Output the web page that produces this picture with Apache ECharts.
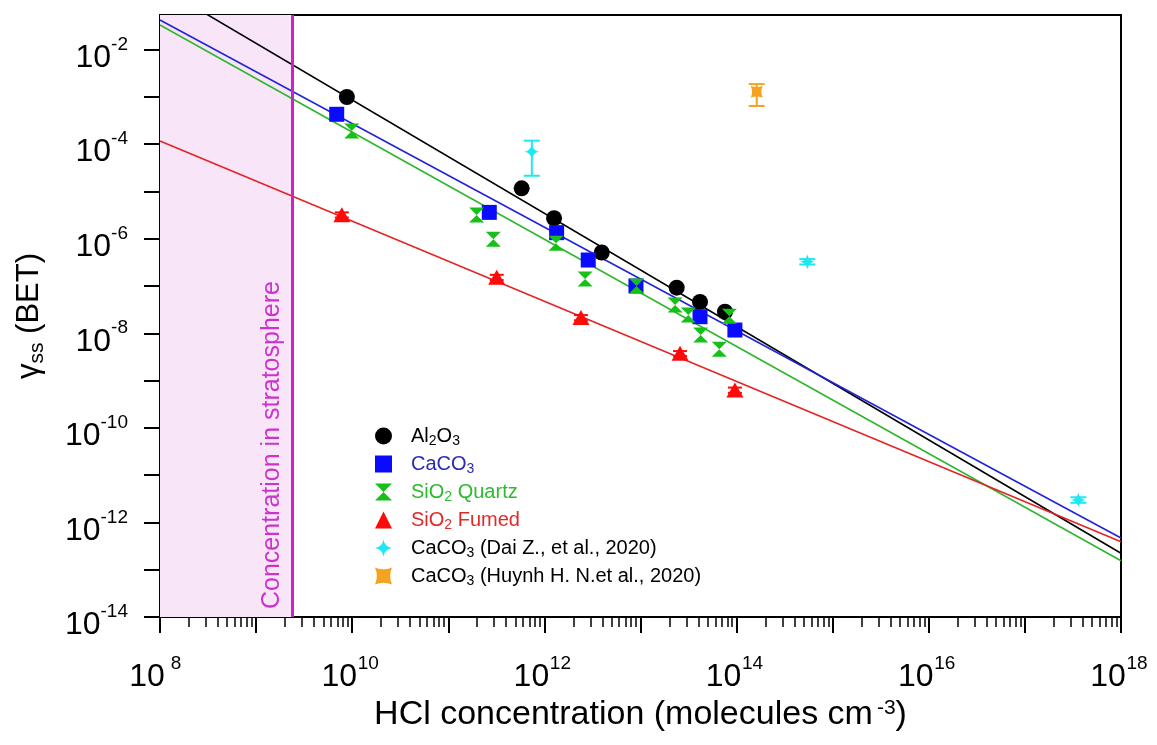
<!DOCTYPE html>
<html><head><meta charset="utf-8">
<script src="https://cdn.jsdelivr.net/npm/echarts@6/dist/echarts.min.js"></script>
<style>html,body{margin:0;padding:0;background:#fff}#c{width:1157px;height:745px}</style>
</head><body><div id="c"></div>
<script>
const FONT = '"Liberation Sans", Arial, Helvetica, sans-serif';

// ---- data (HCl concentration in molecules cm^-3, gamma_ss) ----
const al2o3X = [8.8e9, 5.8e11, 1.26e12, 3.95e12, 2.38e13, 4.16e13, 7.57e13];
const al2o3Y = [9.9e-4, 1.16e-5, 2.7e-6, 5.1e-7, 9.2e-8, 4.6e-8, 2.85e-8];

const caco3X = [6.9e9, 2.67e11, 1.34e12, 2.86e12, 8.97e12, 4.16e13, 9.6e13];
const caco3Y = [4.27e-4, 3.6e-6, 1.34e-6, 3.54e-7, 1.0e-7, 2.24e-8, 1.17e-8];

const quartzX = [9.9e9, 1.97e11, 2.94e11, 1.32e12, 2.65e12, 9.1e12, 2.29e13, 3.14e13, 4.23e13, 6.6e13, 8.4e13];
const quartzY = [1.89e-4, 3.16e-6, 9.7e-7, 8.0e-7, 1.4e-7, 1.0e-7, 3.95e-8, 2.43e-8, 9.2e-9, 4.6e-9, 2.3e-8];

const fumedX = [7.8e9, 3.19e11, 2.4e12, 2.58e13, 9.6e13];
const fumedY = [3.2e-6, 1.52e-7, 2.15e-8, 3.76e-9, 6.3e-10];
const fumedLo = [2.8e-6, 1.33e-7, 1.88e-8, 3.3e-9, 5.5e-10];
const fumedHi = [3.6e-6, 1.72e-7, 2.42e-8, 4.2e-9, 7.1e-10];

const daiX = [7.4e11, 5.44e14, 3.6e17];
const daiY = [6.9e-5, 3.26e-7, 2.98e-12];
const daiLo = [2.14e-5, 2.85e-7, 2.6e-12];
const daiHi = [1.18e-4, 3.7e-7, 3.4e-12];

const huynhX = [1.62e14];
const huynhY = [1.28e-3];
const huynhLo = [6.4e-4];
const huynhHi = [1.86e-3];

// fitted lines: end points at the plot's x limits
const fitX = [1e8, 1e18];
const al2o3FitY = [0.213, 2.23e-13];
const caco3FitY = [0.0421, 4.68e-13];
const quartzFitY = [0.033, 1.55e-13];
const fumedFitY = [1.16e-4, 3.89e-13];

const stratosphereHCl = 2.42e9;

// axes
const xMin = 1e8, xMax = 1e18;
const yMin = 1e-14, yMax = 0.0537;
const xTickLabelExp = [8, 10, 12, 14, 16, 18];
const yTickLabelExp = [-14, -12, -10, -8, -6, -4, -2];

const seriesNames = ['Al2O3', 'CaCO3', 'SiO2 Quartz', 'SiO2 Fumed',
  'CaCO3 (Dai Z., et al., 2020)', 'CaCO3 (Huynh H. N.et al., 2020)'];

// ---- helpers ----
const L = Math.log10;
const pts = (xs, ys) => xs.map((x, i) => [L(x), L(ys[i])]);
const bars = (xs, lo, hi) => xs.map((x, i) => [L(x), L(lo[i]), L(hi[i])]);

const xMajor = [], xMinor = [];
for (let n = L(xMin); n <= L(xMax); n++) {
  xMajor.push(n);
  if (n < L(xMax)) for (let k = 2; k <= 9; k++) xMinor.push(n + L(k));
}
const yMajor = [];
for (let n = L(yMin); n <= -2; n++) yMajor.push(n);

const HOURGLASS = 'path://M0,0 L10,0 L5,5 L10,10 L0,10 L5,5 Z';
const STAR4 = 'path://M5,0 Q5.7,4.3 10,5 Q5.7,5.7 5,10 Q4.3,5.7 0,5 Q4.3,4.3 5,0 Z';
const CONCAVE_SQ = 'path://M0,0 Q5,2.2 10,0 Q7.8,5 10,10 Q5,7.8 0,10 Q2.2,5 0,0 Z';

const C = {
  black: '#000000', blue: '#0a0aff', green: '#16c016', red: '#ff0a0a',
  cyan: '#1fe8f2', orange: '#f5a31f',
  blueLine: '#2323d8', greenLine: '#2fb52f', redLine: '#e32424',
  blueText: '#2a2ab8', greenText: '#2dbb2d', redText: '#e02a2a',
  magenta: '#cc22cc', shade: '#f8e6f8'
};

function errorSeries(data, color, capHalf) {
  return {
    type: 'custom', silent: true, z: 4,
    data: data,
    renderItem: function (params, api) {
      const lo = api.coord([api.value(0), api.value(1)]);
      const hi = api.coord([api.value(0), api.value(2)]);
      const st = { stroke: color, lineWidth: 2 };
      return { type: 'group', children: [
        { type: 'line', shape: { x1: lo[0], y1: lo[1], x2: hi[0], y2: hi[1] }, style: st },
        { type: 'line', shape: { x1: lo[0] - capHalf, y1: lo[1], x2: lo[0] + capHalf, y2: lo[1] }, style: st },
        { type: 'line', shape: { x1: hi[0] - capHalf, y1: hi[1], x2: hi[0] + capHalf, y2: hi[1] }, style: st }
      ]};
    }
  };
}

function fitSeries(ys, color) {
  return {
    type: 'line', silent: true, z: 3, showSymbol: false, symbol: 'none',
    data: pts(fitX, ys), lineStyle: { color: color, width: 1.6 }, clip: true
  };
}

function scatter(name, xs, ys, symbol, size, color) {
  return {
    name: name, type: 'scatter', z: 5, symbol: symbol, symbolSize: size,
    itemStyle: { color: color, opacity: 1 }, data: pts(xs, ys)
  };
}

const supB = { fontSize: 32, fontFamily: FONT, color: '#000', lineHeight: 46 };
const supE = { fontSize: 19, fontFamily: FONT, color: '#000', lineHeight: 16, verticalAlign: 'top' };

const option = {
  animation: false,
  backgroundColor: '#fff',
  grid: { left: 160, right: 36, top: 15, bottom: 128, show: true, borderColor: '#000', borderWidth: 2, backgroundColor: 'transparent' },
  xAxis: [{
    type: 'value', min: L(xMin), max: L(xMax), interval: 1,
    axisLine: { show: true, lineStyle: { color: '#000', width: 2 } },
    axisTick: { show: true, length: 16, lineStyle: { color: '#000', width: 2 }, customValues: xMajor },
    splitLine: { show: false },
    axisLabel: {
      customValues: xTickLabelExp, margin: 37,
      formatter: v => '{b|10}{e|' + Math.round(v) + '}',
      rich: {
        b: Object.assign({}, supB, { width: 30, align: 'right' }),
        e: Object.assign({}, supE, { width: 24, align: 'left', padding: [0, 0, 0, 2] })
      }
    },
    name: 'HCl concentration (molecules cm{e|-3})', nameLocation: 'middle', nameGap: 80,
    nameTextStyle: {
      fontSize: 34, fontFamily: FONT, color: '#000',
      rich: { e: { fontSize: 21, fontFamily: FONT, verticalAlign: 'top', lineHeight: 22, padding: [0, 0, 0, 4] } }
    }
  }, {
    type: 'value', min: L(xMin), max: L(xMax), position: 'bottom',
    axisLine: { show: false },
    axisTick: { show: true, length: 10, lineStyle: { color: '#000', width: 1.5 }, customValues: xMinor },
    axisLabel: { show: false }, splitLine: { show: false }
  }],
  yAxis: {
    type: 'value', min: L(yMin), max: L(yMax),
    axisLine: { show: true, lineStyle: { color: '#000', width: 2 } },
    axisTick: { show: true, length: 16, lineStyle: { color: '#000', width: 2 }, customValues: yMajor },
    splitLine: { show: false },
    axisLabel: {
      customValues: yTickLabelExp, margin: 32, padding: [17, 0, 0, 0],
      formatter: v => '{b|10}{e|' + Math.round(v) + '}',
      rich: { b: supB, e: supE }
    },
    name: 'γ{s|ss} (BET)', nameLocation: 'middle', nameGap: 112, nameRotate: 90,
    nameTextStyle: {
      fontSize: 31, fontFamily: FONT, color: '#000',
      rich: { s: { fontSize: 21, fontFamily: FONT, verticalAlign: 'bottom', lineHeight: 38 } }
    }
  },
  legend: {
    orient: 'vertical', left: 370, top: 419, itemGap: 4, itemWidth: 17, itemHeight: 17,
    data: [
      { name: seriesNames[0], textStyle: { color: '#000' } },
      { name: seriesNames[1], textStyle: { color: C.blueText } },
      { name: seriesNames[2], textStyle: { color: C.greenText } },
      { name: seriesNames[3], textStyle: { color: C.redText } },
      { name: seriesNames[4], textStyle: { color: '#000' } },
      { name: seriesNames[5], textStyle: { color: '#000' } }
    ],
    formatter: name => name.replace(/([A-Za-z])(\d)/g, '$1{s|$2}'),
    textStyle: {
      fontSize: 20, fontFamily: FONT, lineHeight: 24, padding: [0, 0, 0, 14],
      rich: { s: { fontSize: 14, fontFamily: FONT, verticalAlign: 'bottom', lineHeight: 24 } }
    }
  },
  series: [
    {
      type: 'line', data: [], silent: true, z: 1,
      markArea: {
        silent: true, itemStyle: { color: C.shade },
        data: [[{ xAxis: L(xMin) }, { xAxis: L(stratosphereHCl) }]]
      },
      markLine: {
        silent: true, symbol: 'none',
        lineStyle: { color: C.magenta, width: 3, type: 'solid' },
        label: {
          show: true, formatter: 'Concentration in stratosphere', position: 'insideStartTop',
          color: '#cc33cc', fontSize: 25, fontFamily: FONT, distance: 8
        },
        data: [{ xAxis: L(stratosphereHCl) }]
      }
    },
    fitSeries(al2o3FitY, C.black),
    fitSeries(caco3FitY, C.blueLine),
    fitSeries(quartzFitY, C.greenLine),
    fitSeries(fumedFitY, C.redLine),
    errorSeries(bars(fumedX, fumedLo, fumedHi), C.red, 7),
    errorSeries(bars(daiX, daiLo, daiHi), C.cyan, 8),
    errorSeries(bars(huynhX, huynhLo, huynhHi), C.orange, 8),
    scatter(seriesNames[0], al2o3X, al2o3Y, 'circle', 16, C.black),
    scatter(seriesNames[1], caco3X, caco3Y, 'rect', 15, C.blue),
    scatter(seriesNames[2], quartzX, quartzY, HOURGLASS, [15, 15], C.green),
    scatter(seriesNames[3], fumedX, fumedY, 'triangle', [17, 15], C.red),
    scatter(seriesNames[4], daiX, daiY, STAR4, 15, C.cyan),
    scatter(seriesNames[5], huynhX, huynhY, CONCAVE_SQ, 12, C.orange)
  ]
};

const chart = echarts.init(document.getElementById('c'), null, { renderer: 'canvas' });
chart.setOption(option);
</script>
</body></html>
